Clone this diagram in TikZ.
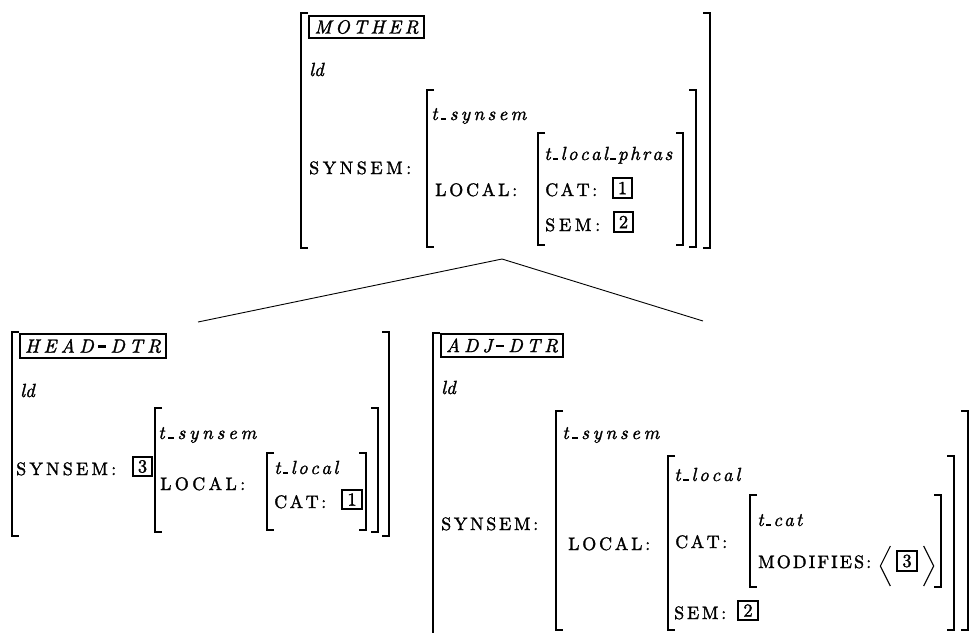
\documentclass[tikz,border=0pt]{standalone}
\font\rmA="[lmroman10-regular]:embolden=1.5" at 18pt
\font\itA="[lmroman10-italic]:embolden=1.5" at 19pt
\font\numA="[lmroman10-regular]:embolden=1.5" at 18.5pt
\makeatletter
\def\spr@a#1{#1\spr@b}
\def\spr@b#1{\ifx#1\relax\else\hfill#1\expandafter\spr@b\fi}
\newcommand\sprt[2]{\makebox[#1][l]{\rmA\spr@a#2\relax}}
\newcommand\sprm[2]{\makebox[#1][l]{\itA\spr@a#2\relax}}
\makeatother
\newcommand\us{\rule{5.5pt}{2pt}}
\newcommand\dsh{\rule[5pt]{8pt}{2.2pt}}
\newcommand\lbr[3]{\draw[brk] (#1+7,#2) -- (#1,#2) -- (#1,#3) -- (#1+7,#3);}
\newcommand\rbr[3]{\draw[brk] (#1-7,#2) -- (#1,#2) -- (#1,#3) -- (#1-7,#3);}
\tikzset{
  brk/.style={line width=2.5pt},
  lab/.style={anchor=base west, inner sep=0pt},
  tagbox/.style={draw, line width=2pt, inner sep=0pt, anchor=north west},
  numbox/.style={draw, line width=1.8pt, inner sep=0pt, minimum size=19.5pt, font=\numA},
  tree/.style={line width=0.9pt},
  angl/.style={line width=1.1pt}
}
\begin{document}
\begin{tikzpicture}[x=1pt,y=-1pt]
\useasboundingbox (0,0) rectangle (973,633);

% ---------------- MOTHER ----------------
\lbr{301}{13}{248} \rbr{710}{13}{248}
\lbr{427}{90}{247} \rbr{696}{90}{247}
\lbr{538}{133}{245} \rbr{683}{133}{245}
\node[tagbox, minimum width=115pt, minimum height=22pt] (mother) at (308,15) {\sprm{104pt}{MOTHER}};
\node[lab] (m-ld) at (309,76) {\sprm{13pt}{ld}};
\node[lab] (m-synsem) at (309,174) {\sprt{102pt}{SYNSEM:}};
\node[lab] (m-tsynsem) at (431,120) {\sprm{95pt}{t\us synsem}};
\node[lab] (m-local) at (435,196) {\sprt{82pt}{LOCAL:}};
\node[lab] (m-tlocal) at (544,160) {\sprm{128pt}{t\us local\us phras}};
\node[lab] (m-cat) at (545,196) {\sprt{52pt}{CAT:}};
\node[numbox] (m-b1) at (622.5,188) {1};
\node[lab] (m-sem) at (545,231) {\sprt{55pt}{SEM:}};
\node[numbox] (m-b2) at (623.5,222) {2};

% ---------------- tree ----------------
\coordinate (apex) at (502,259);
\coordinate (lend) at (198,322);
\coordinate (rend) at (703,321);
\draw[tree] (lend) -- (apex) -- (rend);

% ---------------- HEAD-DTR ----------------
\lbr{12}{332}{536} \rbr{389}{332}{536}
\lbr{155}{408}{532} \rbr{378}{408}{532}
\lbr{267}{453}{530} \rbr{366}{453}{530}
\node[tagbox, minimum width=146pt, minimum height=24pt] (head) at (19,333) {\sprm{136pt}{HEAD\dsh DTR}};
\node[lab] (h-ld) at (20,397) {\sprm{13pt}{ld}};
\node[lab] (h-synsem) at (16,475) {\sprt{100pt}{SYNSEM:}};
\node[numbox] (h-b3) at (142.5,466.5) {3};
\node[lab] (h-tsynsem) at (158,439) {\sprm{98pt}{t\us synsem}};
\node[lab] (h-local) at (160,490) {\sprt{85pt}{LOCAL:}};
\node[lab] (h-tlocal) at (274,474) {\sprm{64pt}{t\us local}};
\node[lab] (h-cat) at (274,508) {\sprt{52pt}{CAT:}};
\node[numbox] (h-b1) at (352,499.5) {1};

% ---------------- ADJ-DTR ----------------
\draw[brk] (433+7,333) -- (433,333) -- (433,633);
\lbr{556}{411}{630} \rbr{968}{411}{630}
\lbr{668}{456}{630} \rbr{954}{456}{630}
\lbr{750}{495}{587} \rbr{941}{495}{587}
\node[tagbox, minimum width=122pt, minimum height=23pt] (adj) at (440,333) {\sprm{112pt}{ADJ\dsh DTR}};
\node[lab] (a-ld) at (441,394) {\sprm{13pt}{ld}};
\node[lab] (a-synsem) at (441,530) {\sprt{97pt}{SYNSEM:}};
\node[lab] (a-tsynsem) at (562,439) {\sprm{97pt}{t\us synsem}};
\node[lab] (a-local) at (568,550) {\sprt{82pt}{LOCAL:}};
\node[lab] (a-tlocal) at (674,481) {\sprm{66pt}{t\us local}};
\node[lab] (a-cat) at (675,548) {\sprt{52pt}{CAT:}};
\node[lab] (a-tcat) at (757,526) {\sprm{45pt}{t\us cat}};
\node[lab] (a-mod) at (758,568) {\sprt{113pt}{MODIFIES:}};
\node[numbox] (a-b3) at (907,561) {3};
\draw[angl] ([xshift=-6pt]a-b3.west |- 0,546) -- ([xshift=-16pt]a-b3.west |- 0,566) -- ([xshift=-6pt]a-b3.west |- 0,586);
\draw[angl] ([xshift=6pt]a-b3.east |- 0,546) -- ([xshift=16pt]a-b3.east |- 0,566) -- ([xshift=6pt]a-b3.east |- 0,586);
\node[lab] (a-sem) at (674,619) {\sprt{52pt}{SEM:}};
\node[numbox] (a-b2) at (748,610.5) {2};
\end{tikzpicture}
\end{document}
